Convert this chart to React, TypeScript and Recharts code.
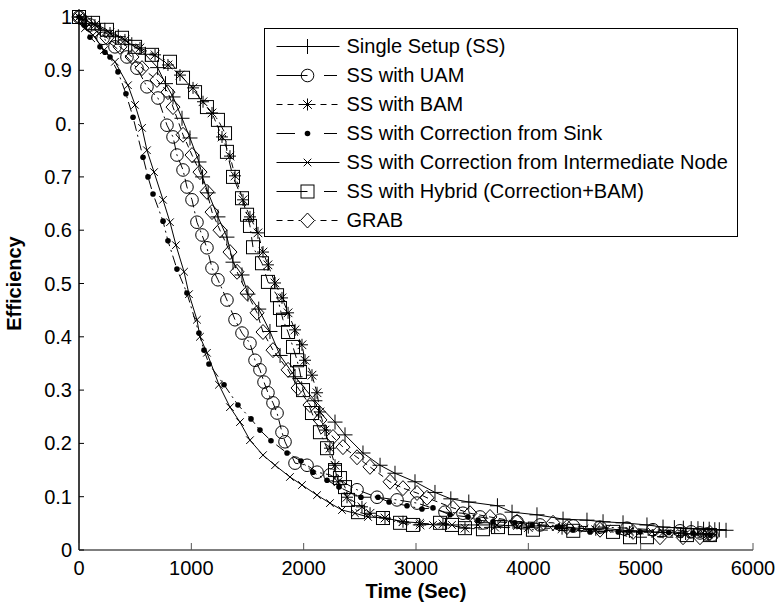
import { Label, Legend, Line, LineChart, XAxis, YAxis } from "recharts";

// [time (sec), efficiency]
const singleSetup: [number, number][] = [
  [0, 1.0], [110, 0.988], [230, 0.975], [350, 0.963], [470, 0.948], [590, 0.93],
  [700, 0.905], [770, 0.875], [837, 0.85], [917, 0.81], [988, 0.773], [1068, 0.728],
  [1100, 0.7], [1150, 0.67], [1237, 0.625], [1317, 0.587], [1371, 0.54], [1451, 0.516],
  [1504, 0.48], [1600, 0.452], [1700, 0.41], [1790, 0.365], [1923, 0.325], [2100, 0.28],
  [2279, 0.24], [2368, 0.216], [2528, 0.182], [2680, 0.159], [2813, 0.144], [2991, 0.128],
  [3169, 0.108], [3310, 0.096], [3470, 0.09], [3725, 0.083], [3855, 0.071], [4077, 0.066],
  [4309, 0.058], [4522, 0.056], [4665, 0.053], [4843, 0.051], [5056, 0.047], [5199, 0.043],
  [5300, 0.042], [5380, 0.041], [5450, 0.04], [5510, 0.04], [5560, 0.039], [5610, 0.039],
  [5660, 0.038], [5700, 0.038], [5760, 0.037],
];

const withUam: [number, number][] = [
  [0, 1.0], [98, 0.985], [214, 0.96], [320, 0.944], [427, 0.925], [516, 0.904],
  [605, 0.869], [703, 0.848], [783, 0.797], [837, 0.775], [872, 0.741], [926, 0.713],
  [961, 0.681], [1006, 0.657], [1050, 0.615], [1095, 0.591], [1139, 0.567], [1184, 0.529],
  [1237, 0.507], [1317, 0.469], [1389, 0.432], [1451, 0.407], [1522, 0.388], [1567, 0.356],
  [1611, 0.338], [1647, 0.315], [1682, 0.295], [1727, 0.276], [1763, 0.257], [1807, 0.221],
  [1834, 0.203], [1923, 0.163], [2030, 0.159], [2119, 0.146], [2234, 0.141], [2475, 0.113],
  [2653, 0.099], [2831, 0.094], [3009, 0.088], [3258, 0.071], [3418, 0.069], [3570, 0.062],
  [3748, 0.056], [3899, 0.053], [4104, 0.047], [4400, 0.045], [4638, 0.043], [4878, 0.041],
  [5110, 0.038], [5350, 0.036], [5450, 0.034], [5528, 0.032], [5590, 0.03], [5635, 0.028],
];

const withBam: [number, number][] = [
  [0, 1.0], [142, 0.985], [276, 0.97], [409, 0.957], [543, 0.942], [677, 0.929],
  [792, 0.91], [899, 0.891], [1015, 0.867], [1104, 0.841], [1184, 0.82], [1273, 0.775],
  [1344, 0.739], [1389, 0.702], [1460, 0.657], [1522, 0.625], [1593, 0.595], [1638, 0.559],
  [1682, 0.535], [1745, 0.501], [1807, 0.473], [1861, 0.445], [1923, 0.413], [1985, 0.385],
  [2012, 0.356], [2074, 0.328], [2119, 0.295], [2145, 0.259], [2190, 0.225], [2234, 0.191],
  [2279, 0.159], [2306, 0.128], [2386, 0.099], [2519, 0.081], [2591, 0.069], [2724, 0.06],
  [2884, 0.053], [3036, 0.047], [3240, 0.049], [3436, 0.041], [3700, 0.043], [4000, 0.042],
  [4300, 0.04], [4600, 0.038], [4900, 0.034], [5200, 0.033], [5400, 0.03], [5600, 0.03],
];

const correctionSink: [number, number][] = [
  [0, 1.0], [45, 0.985], [98, 0.962], [187, 0.944], [231, 0.934], [276, 0.925],
  [347, 0.897], [418, 0.856], [481, 0.812], [570, 0.737], [614, 0.7], [659, 0.668],
  [748, 0.617], [792, 0.58], [872, 0.527], [961, 0.482], [1068, 0.407], [1113, 0.375],
  [1157, 0.349], [1291, 0.31], [1415, 0.272], [1531, 0.246], [1611, 0.225], [1709, 0.205],
  [1852, 0.182], [1976, 0.167], [2083, 0.146], [2208, 0.131], [2314, 0.118], [2510, 0.099],
  [2662, 0.099], [2760, 0.09], [2920, 0.083], [3053, 0.077], [3151, 0.079], [3303, 0.066],
  [3463, 0.062], [3552, 0.056], [3685, 0.053], [3881, 0.051], [4033, 0.047], [4255, 0.043],
  [4398, 0.038], [4549, 0.034], [4800, 0.034], [4994, 0.034], [5250, 0.033], [5466, 0.032],
  [5617, 0.028],
];

const correctionNode: [number, number][] = [
  [0, 1.0], [53, 0.979], [125, 0.966], [223, 0.938], [320, 0.916], [436, 0.872],
  [499, 0.835], [561, 0.792], [605, 0.75], [668, 0.709], [748, 0.657], [810, 0.615],
  [863, 0.572], [935, 0.522], [979, 0.48], [1050, 0.432], [1077, 0.4], [1139, 0.37],
  [1246, 0.31], [1344, 0.268], [1433, 0.24], [1522, 0.206], [1638, 0.178], [1745, 0.159],
  [1878, 0.137], [1985, 0.122], [2119, 0.103], [2234, 0.088], [2341, 0.075], [2457, 0.069],
  [2573, 0.062], [2724, 0.06], [2884, 0.053], [3036, 0.051], [3151, 0.047], [3320, 0.047],
  [3552, 0.047], [3721, 0.047], [3900, 0.045], [4100, 0.045], [4300, 0.043], [4500, 0.04],
  [4700, 0.04], [4900, 0.036], [5100, 0.034], [5300, 0.032], [5500, 0.03], [5650, 0.03],
];

const hybrid: [number, number][] = [
  [0, 1.0], [125, 0.989], [249, 0.976], [383, 0.961], [499, 0.944], [650, 0.929],
  [810, 0.916], [926, 0.886], [1033, 0.859], [1139, 0.831], [1237, 0.807], [1300, 0.782],
  [1317, 0.747], [1371, 0.7], [1451, 0.66], [1496, 0.629], [1522, 0.608], [1549, 0.568],
  [1629, 0.538], [1682, 0.503], [1763, 0.478], [1789, 0.454], [1816, 0.432], [1861, 0.409],
  [1905, 0.381], [1941, 0.356], [1967, 0.334], [1994, 0.3], [2074, 0.257], [2145, 0.221],
  [2208, 0.191], [2279, 0.15], [2323, 0.135], [2368, 0.118], [2395, 0.094], [2484, 0.071],
  [2706, 0.06], [2858, 0.051], [2973, 0.047], [3214, 0.051], [3320, 0.047], [3436, 0.041],
  [3596, 0.039], [3730, 0.043], [3881, 0.041], [4041, 0.038], [4400, 0.036], [4754, 0.034],
  [4905, 0.024], [5056, 0.024], [5412, 0.028], [5617, 0.028],
];

const grab: [number, number][] = [
  [0, 1.0], [53, 0.991], [142, 0.976], [249, 0.961], [365, 0.944], [472, 0.925],
  [561, 0.904], [694, 0.882], [792, 0.859], [837, 0.831], [926, 0.779], [1006, 0.741],
  [1077, 0.709], [1139, 0.672], [1184, 0.634], [1255, 0.6], [1344, 0.559], [1407, 0.522],
  [1496, 0.482], [1585, 0.445], [1638, 0.409], [1727, 0.375], [1861, 0.338], [1950, 0.304],
  [2056, 0.272], [2145, 0.244], [2261, 0.212], [2350, 0.193], [2475, 0.174], [2590, 0.156],
  [2769, 0.128], [2884, 0.116], [3009, 0.107], [3098, 0.098], [3329, 0.079], [3481, 0.069],
  [3659, 0.062], [3899, 0.053], [4220, 0.051], [4344, 0.043], [4638, 0.038], [4932, 0.034],
  [5172, 0.024], [5377, 0.024], [5528, 0.024], [5617, 0.032],
];

const xTicks = [0, 1000, 2000, 3000, 4000, 5000, 6000];
const yTicks = [0, 0.1, 0.2, 0.3, 0.4, 0.5, 0.6, 0.7, 0.8, 0.9, 1];
const yTickLabels = ["0", "0.1", "0.2", "0.3", "0.4", "0.5", "0.6", "0.7", "0.", "0.9", "1"];

const FONT = "'Liberation Sans', Arial, sans-serif";

type Shape = "plus" | "circle" | "star" | "dot" | "cross" | "square" | "diamond";
type Dash = "solid" | "dashed" | "dashdot";

const series: { key: string; name: string; points: [number, number][]; shape: Shape; dash: Dash }[] = [
  { key: "ss", name: "Single Setup (SS)", points: singleSetup, shape: "plus", dash: "solid" },
  { key: "uam", name: "SS with UAM", points: withUam, shape: "circle", dash: "dashdot" },
  { key: "bam", name: "SS with BAM", points: withBam, shape: "star", dash: "dashed" },
  { key: "sink", name: "SS with Correction from Sink", points: correctionSink, shape: "dot", dash: "dashdot" },
  { key: "node", name: "SS with Correction from Intermediate Node", points: correctionNode, shape: "cross", dash: "solid" },
  { key: "hyb", name: "SS with Hybrid (Correction+BAM)", points: hybrid, shape: "square", dash: "dashdot" },
  { key: "grab", name: "GRAB", points: grab, shape: "diamond", dash: "dashed" },
];

const dashArray: Record<Dash, string | undefined> = {
  solid: undefined,
  dashed: "6 4",
  dashdot: "10 4 2 4",
};

function Marker({ shape, cx, cy }: { shape: Shape; cx: number; cy: number }) {
  const s = { stroke: "#000", strokeWidth: 1, fill: "none" };
  switch (shape) {
    case "plus":
      return (
        <g {...s}>
          <line x1={cx - 7.5} x2={cx + 7.5} y1={cy} y2={cy} />
          <line x1={cx} x2={cx} y1={cy - 7.5} y2={cy + 7.5} />
        </g>
      );
    case "circle":
      return <circle cx={cx} cy={cy} r={6.3} {...s} />;
    case "star":
      return (
        <g {...s}>
          <line x1={cx - 6} x2={cx + 6} y1={cy} y2={cy} />
          <line x1={cx} x2={cx} y1={cy - 6} y2={cy + 6} />
          <line x1={cx - 4.3} x2={cx + 4.3} y1={cy - 4.3} y2={cy + 4.3} />
          <line x1={cx - 4.3} x2={cx + 4.3} y1={cy + 4.3} y2={cy - 4.3} />
        </g>
      );
    case "dot":
      return <circle cx={cx} cy={cy} r={2.8} fill="#000" stroke="none" />;
    case "cross":
      return (
        <g {...s}>
          <line x1={cx - 3.8} x2={cx + 3.8} y1={cy - 3.8} y2={cy + 3.8} />
          <line x1={cx - 3.8} x2={cx + 3.8} y1={cy + 3.8} y2={cy - 3.8} />
        </g>
      );
    case "square":
      return <rect x={cx - 6.5} y={cy - 6.5} width={13} height={13} {...s} />;
    case "diamond":
      return (
        <polygon points={`${cx},${cy - 7.5} ${cx + 7},${cy} ${cx},${cy + 7.5} ${cx - 7},${cy}`} {...s} />
      );
  }
}

function YTick(props: any) {
  const { x, y, payload } = props;
  const i = yTicks.findIndex((v) => Math.abs(v - payload.value) < 1e-9);
  return (
    <g>
      <line x1={x} x2={x + 5} y1={y} y2={y} stroke="#000" />
      <text x={x - 7} y={y} dy={7} textAnchor="end" fontSize={20} fontFamily={FONT} fill="#000">
        {yTickLabels[i]}
      </text>
    </g>
  );
}

function XTick(props: any) {
  const { x, y, payload } = props;
  return (
    <g>
      <line x1={x} x2={x} y1={y} y2={y - 7} stroke="#555" />
      <text x={x} y={y + 25} textAnchor="middle" fontSize={20} fontFamily={FONT} fill="#000">
        {payload.value}
      </text>
    </g>
  );
}

function LegendSample({ shape, dash }: { shape: Shape; dash: Dash }) {
  // dash-dot samples: a long segment, the marker, then a short segment
  const firstEnd = shape === "dot" ? 30 : 42.5;
  return (
    <svg width={81.5} height={29} style={{ display: "block", flex: "none" }}>
      {dash === "dashdot" ? (
        <g stroke="#000" strokeWidth={1}>
          <line x1={11.5} x2={firstEnd} y1={14.5} y2={14.5} />
          <line x1={59} x2={72} y1={14.5} y2={14.5} />
        </g>
      ) : (
        <line
          x1={11.5}
          x2={74.5}
          y1={14.5}
          y2={14.5}
          stroke="#000"
          strokeWidth={1}
          strokeDasharray={dash === "dashed" ? "6 5" : undefined}
        />
      )}
      {shape === "diamond" ? <rect x={35} y={13} width={15} height={3} fill="#fff" /> : null}
      <Marker shape={shape} cx={42.5} cy={14.5} />
    </svg>
  );
}

function LegendBox() {
  return (
    <div
      style={{
        width: 474,
        height: 209,
        boxSizing: "border-box",
        border: "1.5px solid #000",
        background: "#fff",
        paddingTop: 2.5,
        fontFamily: FONT,
        fontSize: 20,
        color: "#000",
      }}
    >
      {series.map((s) => (
        <div key={s.key} style={{ display: "flex", alignItems: "center", height: 29, whiteSpace: "nowrap" }}>
          <LegendSample shape={s.shape} dash={s.dash} />
          <span>{s.name}</span>
        </div>
      ))}
    </div>
  );
}

export default function App() {
  return (
    <div style={{ position: "absolute", left: 0, top: 0, background: "#fff" }}>
      <LineChart width={780} height={609} margin={{ top: 17, right: 27, left: 19, bottom: 29 }}>
        <XAxis
          type="number"
          dataKey="x"
          domain={[0, 6000]}
          ticks={xTicks}
          height={30}
          tickSize={0}
          tickMargin={0}
          tickLine={false}
          axisLine={{ stroke: "#555", strokeWidth: 1.5 }}
          tick={<XTick />}
        >
          <Label
            content={({ viewBox }: any) => (
              <text
                x={viewBox.x + viewBox.width / 2}
                y={viewBox.y + 48}
                textAnchor="middle"
                fontSize={20}
                fontWeight="bold"
                fontFamily={FONT}
                fill="#000"
              >
                Time (Sec)
              </text>
            )}
          />
        </XAxis>
        <YAxis
          type="number"
          dataKey="y"
          domain={[0, 1]}
          ticks={yTicks}
          width={60}
          tickSize={0}
          tickMargin={0}
          tickLine={false}
          axisLine={{ stroke: "#000", strokeWidth: 1.5 }}
          tick={<YTick />}
        >
          <Label
            content={({ viewBox }: any) => (
              <text
                x={21}
                y={viewBox.y + viewBox.height / 2}
                transform={`rotate(-90 21 ${viewBox.y + viewBox.height / 2})`}
                textAnchor="middle"
                fontSize={20}
                fontWeight="bold"
                fontFamily={FONT}
                fill="#000"
              >
                Efficiency
              </text>
            )}
          />
        </YAxis>
        <Legend
          layout="vertical"
          align="center"
          verticalAlign="middle"
          wrapperStyle={{ left: 264, top: 28, width: 474 }}
          content={() => <LegendBox />}
        />
        {series.map((s) => (
          <Line
            key={s.key}
            name={s.name}
            data={s.points.map(([x, y]) => ({ x, y }))}
            dataKey="y"
            type="linear"
            stroke="#000"
            strokeWidth={1}
            strokeDasharray={dashArray[s.dash]}
            dot={(p: any) => <Marker key={`${s.key}-${p.index}`} shape={s.shape} cx={p.cx} cy={p.cy} />}
            activeDot={false}
            isAnimationActive={false}
          />
        ))}
      </LineChart>
    </div>
  );
}
